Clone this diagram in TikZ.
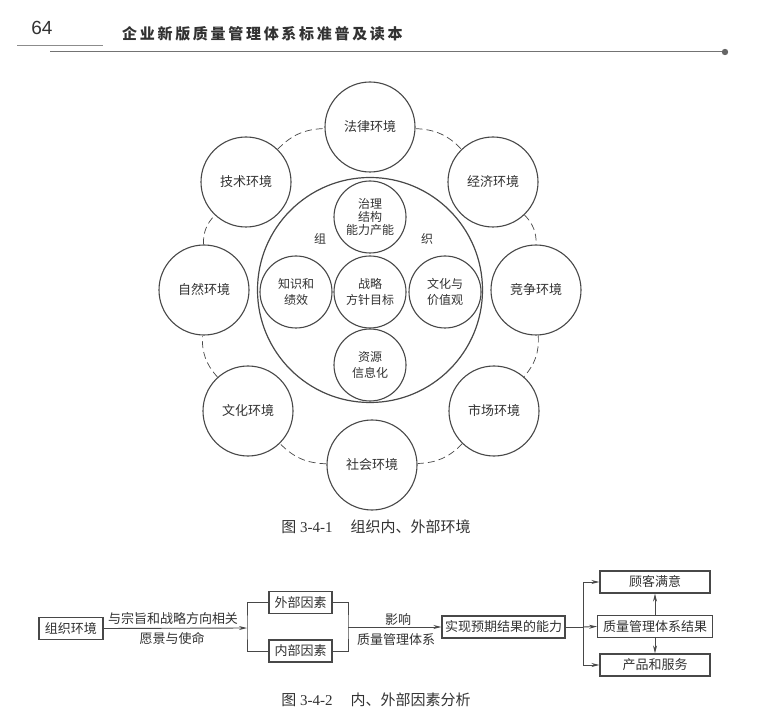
\documentclass[tikz,border=0pt]{standalone}
\usepackage{fontspec}
\setmainfont{Liberation Serif}
\newfontfamily\cjk{Noto Sans CJK SC}
\newfontfamily\cjkhead[LetterSpace=18]{Noto Sans CJK SC}
\newfontfamily\headsans{Liberation Sans}
\usetikzlibrary{arrows.meta}
\definecolor{ink}{RGB}{72,72,72}
\definecolor{txt}{RGB}{50,50,50}
\begin{document}
\begin{tikzpicture}[x=1pt,y=-1pt,
  every node/.style={text=txt},
  envc/.style={circle, draw=ink, line width=1.1pt, fill=white, minimum size=90pt,
    inner sep=0pt, font=\cjk\fontsize{13}{15}\selectfont},
  corec/.style={circle, draw=ink, line width=1.1pt, fill=white, minimum size=72pt,
    inner sep=0pt, align=center, font=\cjk\fontsize{12}{16}\selectfont},
  ring/.style={draw=ink, line width=0.7pt, dash pattern=on 7pt off 4pt},
  fbox/.style={draw=ink, line width=1.1pt, inner ysep=0pt, inner xsep=5.5pt,
    minimum height=22pt, font=\cjk\fontsize{13}{15}\selectfont},
  rbox/.style={fbox, minimum width=110pt},
  lab/.style={font=\cjk\fontsize{13}{15}\selectfont, inner sep=0pt},
  wire/.style={draw=ink, line width=0.9pt},
  arr/.style={wire, -{Stealth[length=8pt,width=4pt]}},
  figcaption/.style={font=\fontsize{15}{17}\selectfont, inner sep=0pt},
]
\useasboundingbox[fill=white] (0,0) rectangle (764,722);

% ---- running head ----
\node[font=\headsans\fontsize{19}{19}\selectfont, inner sep=0pt] (pageno) at (42,28) {64};
\node[font=\cjkhead\bfseries\fontsize{15}{15}\selectfont, anchor=west, inner sep=0pt]
  (booktitle) at (122,34) {企业新版质量管理体系标准普及读本};
\coordinate (rulea) at (17,45);
\coordinate (ruleb) at (103,45);
\coordinate (rulec) at (50,52);
\coordinate (ruled) at (725,52);
\draw[draw=black!45, line width=0.8pt] (rulea) -- (ruleb);
\draw[draw=black!55, line width=1pt] (rulec) -- (ruled);
\fill[black!60] (ruled) circle (3.2);

% ---- figure 3-4-1: environment circles ----
\node[envc] (falv)   at (370,127) {法律环境};
\node[envc] (jingji) at (493,182) {经济环境};
\node[envc] (jingz)  at (536,290) {竞争环境};
\node[envc] (shic)   at (494,411) {市场环境};
\node[envc] (shehui) at (372,465) {社会环境};
\node[envc] (wenhua) at (248,411) {文化环境};
\node[envc] (ziran)  at (204,290) {自然环境};
\node[envc] (jishu)  at (246,182) {技术环境};

\draw[ring] (falv)   to[bend left=22] (jingji);
\draw[ring] (jingji) to[bend left=22] (jingz);
\draw[ring] (jingz)  to[bend left=22] (shic);
\draw[ring] (shic)   to[bend left=22] (shehui);
\draw[ring] (shehui) to[bend left=22] (wenhua);
\draw[ring] (wenhua) to[bend left=22] (ziran);
\draw[ring] (ziran)  to[bend left=22] (jishu);
\draw[ring] (jishu)  to[bend left=22] (falv);

% organisation
\node[circle, draw=ink, line width=1.2pt, minimum size=225pt, inner sep=0pt] (org) at (370,290) {};
\node[lab, font=\cjk\fontsize{12}{14}\selectfont] (zu) at (320,239) {组};
\node[lab, font=\cjk\fontsize{12}{14}\selectfont] (zhi) at (427,239) {织};
\node[corec] (zhili)  at (370,217) {治理\\[-3pt]结构\\[-3pt]能力产能};
\node[corec] (zhishi) at (296,292) {知识和\\绩效};
\node[corec] (zhanl)  at (370,292) {战略\\方针目标};
\node[corec] (wenh)   at (445,292) {文化与\\价值观};
\node[corec] (ziyuan) at (370,365) {资源\\信息化};

\node[figcaption] (cap1) at (376,527) {{\cjk 图} 3-4-1\hspace{18pt}{\cjk 组织内、外部环境}};

% ---- figure 3-4-2: internal and external factors ----
\node[fbox, inner xsep=6pt] (orgenv) at (71,628.5) {组织环境};
\node[fbox] (waibu)  at (300.5,602.5) {外部因素};
\node[fbox] (neibu)  at (300.5,651) {内部因素};
\node[fbox, inner xsep=3pt] (shixian) at (503.5,627) {实现预期结果的能力};
\node[rbox] (guke)    at (655,582) {顾客满意};
\node[rbox] (jieguo)  at (655,626.5) {质量管理体系结果};
\node[rbox] (chanpin) at (655,665) {产品和服务};

\coordinate (fa) at (247,628);
\coordinate (fb) at (348,627);
\coordinate (fc) at (583,627);

\draw[arr] (orgenv.east) -- (fa);
\draw[wire] (waibu.west) -| (fa) |- (neibu.west);
\draw[wire] (waibu.east) -| (fb) |- (neibu.east);
\draw[arr] (fb) -- (shixian.west);
\draw[wire] (shixian.east) -- (fc);
\draw[arr] (fc) |- (guke.west);
\draw[arr] (fc) -- (jieguo.west);
\draw[arr] (fc) |- (chanpin.west);
\draw[arr] (jieguo.north) -- (guke.south);
\draw[arr] (jieguo.south) -- (chanpin.north);

\node[lab] (mission1) at (173,618) {与宗旨和战略方向相关};
\node[lab] (mission2) at (172,639) {愿景与使命};
\node[lab] (affect1) at (398,620) {影响};
\node[lab] (affect2) at (396,640) {质量管理体系};

\node[figcaption] (cap2) at (376,700) {{\cjk 图} 3-4-2\hspace{18pt}{\cjk 内、外部因素分析}};
\end{tikzpicture}
\end{document}
